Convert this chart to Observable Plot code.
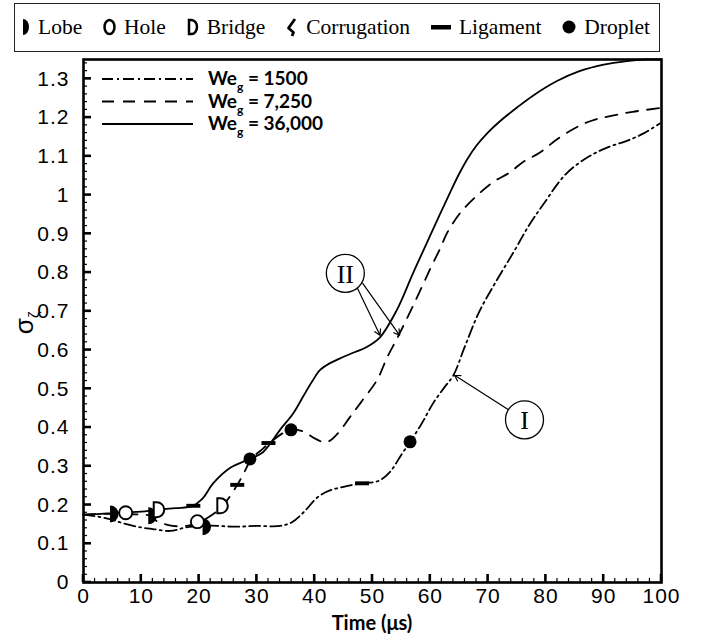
<!DOCTYPE html>
<html><head><meta charset="utf-8">
<script src="https://cdn.jsdelivr.net/npm/d3@7"></script>
<script src="https://cdn.jsdelivr.net/npm/@observablehq/plot@0.6"></script>
<style>
html,body{margin:0;padding:0;background:#fff;}
body{width:704px;height:637px;position:relative;overflow:hidden;}
#legend{position:absolute;left:14px;top:3px;width:646px;height:49px;box-sizing:border-box;border:1.5px solid #222;
  display:flex;align-items:center;justify-content:space-between;padding:0 9px 0 5px;
  font-family:"Liberation Serif","Times New Roman",serif;font-size:21.5px;color:#000;}
#legend .item{display:flex;align-items:center;gap:8px;}
#legend svg{display:block;}
#chart{position:absolute;left:0;top:55px;}
</style>
</head><body>
<div id="legend"></div>
<div id="chart"></div>
<script>
// ---------- data ----------
const seriesNames = ["We1500", "We7250", "We36000"];
const legendWe = ["1500", "7,250", "36,000"];

const t1500 = [0, 2.5, 5, 7, 10, 12, 15, 18, 22, 26, 30, 34, 36, 38, 40.5, 42.5, 45, 48, 51, 53, 55, 56.5, 58.5, 60.5, 62.5, 64, 66, 68.5, 71.5, 74.5, 77, 79.5, 83.5, 87.5, 91, 94, 97, 99.7];
const s1500 = [0.175, 0.170, 0.162, 0.152, 0.142, 0.138, 0.133, 0.143, 0.147, 0.144, 0.146, 0.146, 0.155, 0.18, 0.22, 0.237, 0.247, 0.256, 0.262, 0.285, 0.33, 0.363, 0.41, 0.463, 0.505, 0.535, 0.61, 0.70, 0.78, 0.855, 0.92, 0.975, 1.055, 1.10, 1.125, 1.14, 1.16, 1.185];

const t7250 = [0, 3, 6, 9, 11.5, 12.8, 14.5, 16.5, 18.5, 20, 22, 24, 26.6, 28, 29, 31, 33, 35, 36, 38, 40, 42, 44, 46, 48, 50.8, 52.5, 54.7, 57.7, 60, 61.7, 63, 65.4, 68.6, 71, 73.7, 76, 78.9, 82, 85.8, 88.5, 91.5, 95, 100];
const s7250 = [0.175, 0.177, 0.177, 0.176, 0.172, 0.157, 0.149, 0.145, 0.148, 0.155, 0.172, 0.196, 0.252, 0.29, 0.318, 0.345, 0.37, 0.39, 0.395, 0.39, 0.372, 0.362, 0.385, 0.425, 0.465, 0.523, 0.58, 0.643, 0.736, 0.81, 0.862, 0.905, 0.958, 1.006, 1.035, 1.058, 1.085, 1.109, 1.145, 1.179, 1.195, 1.205, 1.215, 1.225];

const t36000 = [0, 3, 5, 7.2, 10, 12.8, 16, 18.8, 20.5, 22.5, 25.4, 28.8, 31.1, 34, 36.3, 38, 39.6, 40.9, 42.5, 44.9, 47, 49, 51.3, 54.2, 57, 59.6, 61.5, 63.4, 65, 66.5, 68, 70, 72, 75, 77.7, 82, 85.8, 90, 94, 97, 100];
const s36000 = [0.175, 0.177, 0.179, 0.181, 0.183, 0.188, 0.192, 0.197, 0.215, 0.257, 0.296, 0.319, 0.337, 0.394, 0.437, 0.48, 0.52, 0.548, 0.565, 0.582, 0.595, 0.608, 0.633, 0.703, 0.798, 0.883, 0.945, 1.006, 1.055, 1.095, 1.128, 1.162, 1.190, 1.226, 1.256, 1.295, 1.32, 1.337, 1.346, 1.35, 1.35];

const markerTypes = ["Lobe", "Hole", "Bridge", "Corrugation", "Ligament", "Droplet"];
const markerType  = ["Lobe", "Hole", "Lobe", "Bridge", "Ligament", "Hole", "Lobe", "Bridge", "Ligament", "Droplet", "Ligament", "Droplet", "Ligament", "Droplet"];
const markerTime  = [4.6, 7.3, 11.2, 12.8, 19.0, 19.7, 20.6, 23.8, 26.6, 28.8, 32.0, 35.9, 48.2, 56.5];
const markerSigma = [0.177, 0.180, 0.172, 0.188, 0.198, 0.157, 0.144, 0.198, 0.252, 0.319, 0.360, 0.394, 0.256, 0.363];

const annotLabels = ["II", "I"];
const annotTime   = [45.3, 76.3];
const annotSigma  = [0.798, 0.420];
const arrowFromT = [47.0, 48.3, 73.6];
const arrowFromS = [0.772, 0.772, 0.445];
const arrowToT   = [51.3, 54.7, 64.2];
const arrowToS   = [0.638, 0.638, 0.535];

const xTicks = [0, 10, 20, 30, 40, 50, 60, 70, 80, 90, 100];
const yTicks = [0, 0.1, 0.2, 0.3, 0.4, 0.5, 0.6, 0.7, 0.8, 0.9, 1, 1.1, 1.2, 1.3];

// ---------- tables ----------
const toRows = (ts, ss, name) => ts.map((t, i) => ({t, s: ss[i], series: name}));
const rows1500 = toRows(t1500, s1500, seriesNames[0]);
const rows7250 = toRows(t7250, s7250, seriesNames[1]);
const rows36000 = toRows(t36000, s36000, seriesNames[2]);
const markers = markerType.map((k, i) => ({type: k, t: markerTime[i], s: markerSigma[i]}));
const annots = annotLabels.map((l, i) => ({label: l, t: annotTime[i], s: annotSigma[i]}));
const arrows = arrowFromT.map((t, i) => ({t1: t, s1: arrowFromS[i], t2: arrowToT[i], s2: arrowToS[i]}));

// ---------- custom symbols ----------
const symLobe = {draw(ctx, size) { const r = Math.sqrt(size / Math.PI); ctx.moveTo(0, -r); ctx.arc(0, 0, r, -Math.PI / 2, Math.PI / 2); ctx.closePath(); }};
const symBridge = {draw(ctx, size) { const r = Math.sqrt(size / Math.PI); ctx.moveTo(-0.5 * r, -r); ctx.lineTo(-0.1 * r, -r); ctx.arc(-0.1 * r, 0, r, -Math.PI / 2, Math.PI / 2); ctx.lineTo(-0.5 * r, r); ctx.closePath(); }};
const symLig = {draw(ctx, size) { const r = Math.sqrt(size / Math.PI); ctx.rect(-r, -r * 0.28, 2 * r, r * 0.56); }};
const of = (k) => markers.filter(d => d.type === k);

const dashDot = "11,4,2,4", dashed = "12,9";
const axisFont = "'Liberation Sans', Arial, sans-serif";

const plot = Plot.plot({
  width: 704, height: 582,
  marginTop: 4, marginBottom: 55, marginLeft: 83, marginRight: 43,
  style: {fontFamily: axisFont, color: "#000", background: "transparent", overflow: "visible"},
  x: {domain: [0, 100]},
  y: {domain: [0, 1.35]},
  marks: [
    Plot.axisX({ticks: xTicks, tickSize: 0, tickPadding: 6, label: null, fontSize: 21, fontFamily: axisFont, fill: "#000"}),
    Plot.axisY({ticks: yTicks, tickSize: 0, tickPadding: 14, label: null, fontSize: 21, fontFamily: axisFont, fill: "#000", tickFormat: d => String(+d.toFixed(2))}),
    Plot.line(rows1500, {x: "t", y: "s", stroke: "#000", strokeWidth: 1.8, strokeDasharray: dashDot, curve: "catmull-rom"}),
    Plot.line(rows7250, {x: "t", y: "s", stroke: "#000", strokeWidth: 1.8, strokeDasharray: dashed, curve: "catmull-rom"}),
    Plot.line(rows36000, {x: "t", y: "s", stroke: "#000", strokeWidth: 1.8, curve: "catmull-rom"}),
    Plot.arrow(arrows, {x1: "t1", y1: "s1", x2: "t2", y2: "s2", stroke: "#000", strokeWidth: 1.2, headLength: 8}),
    Plot.dot(annots, {x: "t", y: "s", r: 19, fill: "#fff", stroke: "#000", strokeWidth: 1.3}),
    Plot.text(annots, {x: "t", y: "s", text: "label", fontFamily: "'Liberation Serif', serif", fontSize: 26, fill: "#000", dy: 1}),
    Plot.dot(of("Lobe"), {x: "t", y: "s", symbol: symLobe, r: 8.5, fill: "#000", stroke: "none"}),
    Plot.dot(of("Hole"), {x: "t", y: "s", r: 6.5, fill: "#fff", stroke: "#000", strokeWidth: 1.8}),
    Plot.dot(of("Bridge"), {x: "t", y: "s", symbol: symBridge, r: 7.5, fill: "#fff", stroke: "#000", strokeWidth: 2}),
    Plot.dot(of("Ligament"), {x: "t", y: "s", symbol: symLig, r: 7, fill: "#000", stroke: "none"}),
    Plot.dot(of("Droplet"), {x: "t", y: "s", r: 6.5, fill: "#000", stroke: "none"}),
    Plot.frame({stroke: "#000", strokeWidth: 2.6})
  ]
});
document.getElementById("chart").appendChild(plot);

// ---------- inward ticks, axis titles, line-style legend ----------
const svg = d3.select(plot);
svg.selectAll("g[aria-label='y-axis tick label'] text, g[aria-label='x-axis tick label'] text")
  .attr("letter-spacing", 1).attr("font-size", 21);
const xs = plot.scale("x"), ys = plot.scale("y");
const yb = ys.apply(0), xl = xs.apply(0);
const tg = svg.append("g").attr("stroke", "#000");
for (let i = 0; i <= 50; i++) {
  const v = i * 2, major = i % 5 === 0, px = xs.apply(v);
  tg.append("line").attr("x1", px).attr("x2", px).attr("y1", yb).attr("y2", yb - (major ? 8 : 4)).attr("stroke-width", major ? 2.6 : 1.2);
}
for (let i = 0; i <= 67; i++) {
  const v = i * 0.02, major = i % 5 === 0, py = ys.apply(v);
  tg.append("line").attr("x1", xl).attr("x2", xl + (major ? 8 : 4)).attr("y1", py).attr("y2", py).attr("stroke-width", major ? 2.6 : 1.2);
}
// x title
svg.append("text").attr("x", (xs.apply(0) + xs.apply(100)) / 2).attr("y", 575)
  .attr("text-anchor", "middle").attr("font-family", "Lato, 'Open Sans', sans-serif").attr("font-weight", "bold").attr("font-size", 20)
  .text("Time (μs)");
// y title  σ_ζ
const yt = svg.append("text").attr("transform", `translate(33,${ys.apply(0.7) + 12}) rotate(-90)`)
  .attr("font-family", axisFont).attr("font-size", 26).attr("text-anchor", "middle");
yt.append("tspan").text("σ");
yt.append("tspan").attr("font-size", 15).attr("dy", 6).text("ζ");

// line-style legend
const lg = svg.append("g");
const styles = [dashDot, dashed, null];
legendWe.forEach((w, i) => {
  const y = 24 + i * 22.5;
  const ln = lg.append("line").attr("x1", 102).attr("x2", 193).attr("y1", y).attr("y2", y).attr("stroke", "#000").attr("stroke-width", 1.8);
  if (styles[i]) ln.attr("stroke-dasharray", styles[i]);
  const tx = lg.append("text").attr("x", 208).attr("y", y + 6).attr("text-anchor", "start")
    .attr("font-family", "Lato, 'Open Sans', sans-serif").attr("font-weight", "bold").attr("font-size", 19);
  tx.append("tspan").text("We");
  tx.append("tspan").attr("font-size", 12).attr("dy", 6).text("g");
  tx.append("tspan").attr("dy", -6).text(" = " + w);
});

// ---------- top legend (marker types) ----------
const leg = d3.select("#legend");
const drawers = {
  Lobe: s => s.append("path").attr("d", "M3,1 A6,8 0 0 1 3,17 Z").attr("fill", "#000"),
  Hole: s => s.append("ellipse").attr("cx", 6.5).attr("cy", 9).attr("rx", 5).attr("ry", 7).attr("fill", "none").attr("stroke", "#000").attr("stroke-width", 2.5),
  Bridge: s => s.append("path").attr("d", "M2,2 L4.5,2 A5.5,7 0 0 1 4.5,16 L2,16 Z").attr("fill", "none").attr("stroke", "#000").attr("stroke-width", 2.5),
  Corrugation: s => s.append("path").attr("d", "M9,1 L2.5,10 L7.5,14.5 L6,18").attr("fill", "none").attr("stroke", "#000").attr("stroke-width", 2.8).attr("stroke-linejoin", "round"),
  Ligament: s => s.append("rect").attr("x", 0).attr("y", 7).attr("width", 20).attr("height", 4.5).attr("fill", "#000"),
  Droplet: s => s.append("circle").attr("cx", 7).attr("cy", 9).attr("r", 6.5).attr("fill", "#000")
};
const widths = {Lobe: 10, Hole: 13, Bridge: 12, Corrugation: 12, Ligament: 20, Droplet: 14};
markerTypes.forEach(k => {
  const it = leg.append("div").attr("class", "item");
  const s = it.append("svg").attr("width", widths[k]).attr("height", 19);
  drawers[k](s);
  it.append("span").text(k);
});
</script>
</body></html>
